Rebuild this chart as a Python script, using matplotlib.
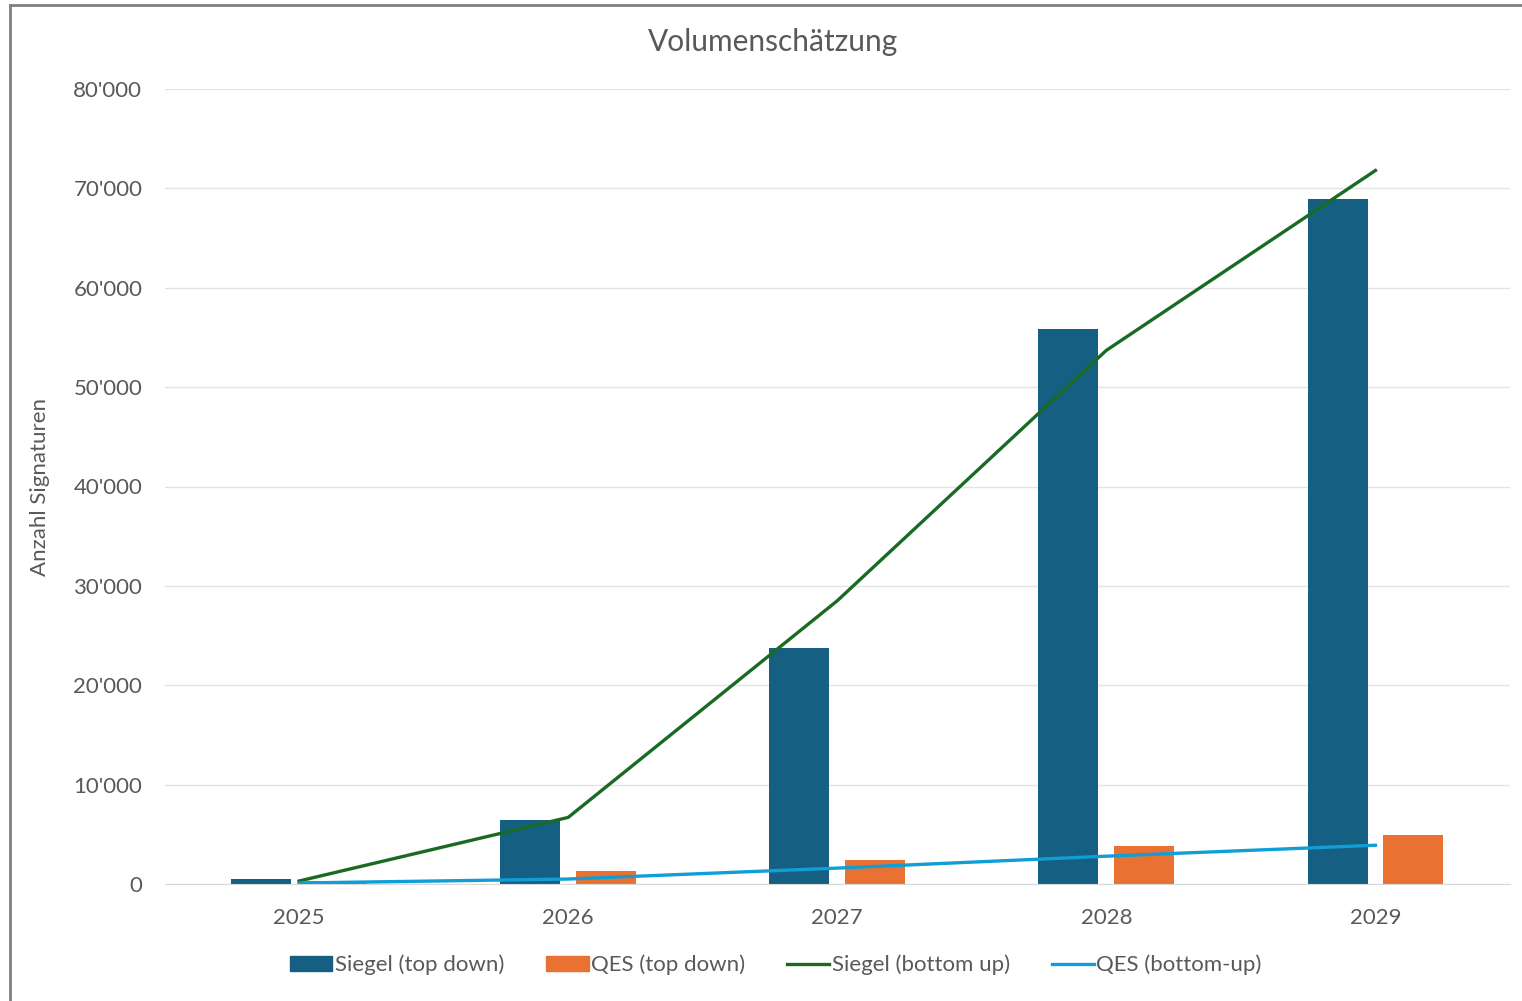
import matplotlib
matplotlib.use("Agg")
import matplotlib.pyplot as plt
from matplotlib.lines import Line2D
from matplotlib.ticker import FuncFormatter
import numpy as np

years = ["2025", "2026", "2027", "2028", "2029"]
siegel_top_down = [500, 6400, 23700, 55800, 68900]
qes_top_down = [300, 1300, 2400, 3800, 4900]
siegel_bottom_up = [300, 6700, 28500, 53700, 71800]
qes_bottom_up = [100, 500, 1600, 2800, 3900]

plt.rcParams['font.family'] = ['Lato', 'DejaVu Sans']

fig = plt.figure(figsize=(15.22, 10.01), dpi=100)
ax = fig.add_axes([164.5/1522, 1-884/1001, (1510-164.5)/1522, (884-89)/1001])

x = np.arange(len(years))
w = 0.223
off = 0.141
c_blue = "#156082"
c_orange = "#E97132"
c_green = "#196B24"
c_light = "#0F9ED5"
txt = "#595959"

ax.bar(x - off, siegel_top_down, width=w, color=c_blue, zorder=2, label="Siegel (top down)")
ax.bar(x + off, qes_top_down, width=w, color=c_orange, zorder=2, label="QES (top down)")
ax.plot(x, siegel_bottom_up, color=c_green, lw=2.4, zorder=3, label="Siegel (bottom up)")
ax.plot(x, qes_bottom_up, color=c_light, lw=2.4, zorder=3, label="QES (bottom-up)")

ax.set_xlim(-0.5, 4.5)
ax.set_ylim(0, 80000)
ax.set_yticks(np.arange(0, 80001, 10000))
ax.yaxis.set_major_formatter(FuncFormatter(lambda v, p: "0" if v == 0 else f"{int(v):,}".replace(",", "'")))
ax.set_xticks(x)
ax.set_xticklabels(years)
ax.grid(axis='y', color="#e3e3e3", lw=1, zorder=0)
for s in ["top", "right", "left"]:
    ax.spines[s].set_visible(False)
ax.spines["bottom"].set_color("#d9d9d9")
ax.tick_params(axis='both', length=0, labelsize=16, colors=txt)
ax.tick_params(axis='y', pad=16)
ax.tick_params(axis='x', pad=17)

ax.set_ylabel("Anzahl Signaturen", fontsize=16, color=txt)
ax.yaxis.set_label_coords(-(164.5-50)/1345.5, 0.5)

fig.text(773/1522, 1-42/1001, "Volumenschätzung", ha="center", va="center", fontsize=21.5, color=txt)

handles = [
    plt.Rectangle((0, 0), 1, 1, color=c_blue),
    plt.Rectangle((0, 0), 1, 1, color=c_orange),
    Line2D([0], [0], color=c_green, lw=2.4),
    Line2D([0], [0], color=c_light, lw=2.4),
]
labels = ["Siegel (top down)", "QES (top down)", "Siegel (bottom up)", "QES (bottom-up)"]
fig.legend(handles, labels, loc="center", bbox_to_anchor=(776/1522, 1-965/1001), ncol=4,
           frameon=False, fontsize=16, handlelength=1.9, handletextpad=0.1, columnspacing=1.9,
           labelcolor=txt)

# chart border (left and top)
fig.add_artist(Line2D([10/1522, 10/1522], [0, 1-5/1001], color="#7f7f7f", lw=2, transform=fig.transFigure))
fig.add_artist(Line2D([10/1522, 1], [1-5/1001, 1-5/1001], color="#7f7f7f", lw=2, transform=fig.transFigure))

fig.savefig("out.png", dpi=100)
